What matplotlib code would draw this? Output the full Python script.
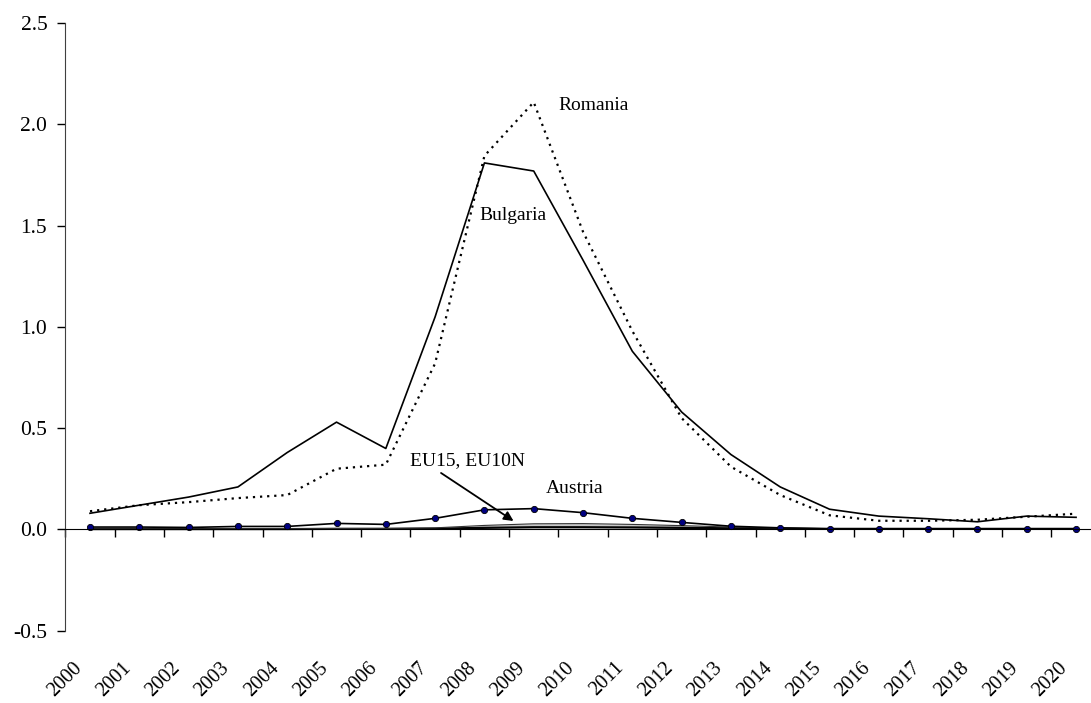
import matplotlib
matplotlib.use("Agg")
import matplotlib.pyplot as plt
import numpy as np

plt.rcParams['font.family'] = ['Liberation Serif', 'DejaVu Serif']
plt.rcParams['font.size'] = 14

years = [str(y) for y in range(2000, 2021)]

bulgaria = [0.08, 0.12, 0.16, 0.21, 0.38, 0.53, 0.40, 1.05, 1.81, 1.77, 1.33,
            0.88, 0.58, 0.37, 0.21, 0.10, 0.066, 0.053, 0.038, 0.066, 0.06]
romania = [0.09, 0.12, 0.135, 0.155, 0.17, 0.30, 0.32, 0.82, 1.845, 2.11, 1.47,
           0.98, 0.55, 0.31, 0.17, 0.07, 0.043, 0.043, 0.048, 0.063, 0.078]
austria = [0.012, 0.012, 0.01, 0.015, 0.015, 0.03, 0.025, 0.055, 0.097, 0.103, 0.083,
           0.055, 0.035, 0.016, 0.008, 0.003, 0.003, 0.003, 0.003, 0.003, 0.003]
eu15 = [0.002, 0.002, 0.002, 0.002, 0.002, 0.003, 0.003, 0.004, 0.008, 0.011, 0.011,
        0.01, 0.008, 0.006, 0.004, 0.003, 0.003, 0.003, 0.003, 0.003, 0.003]
eu10n = [0.003, 0.003, 0.003, 0.004, 0.004, 0.005, 0.005, 0.008, 0.02, 0.028, 0.029,
         0.025, 0.019, 0.012, 0.007, 0.004, 0.003, 0.003, 0.003, 0.003, 0.003]

x = np.arange(len(years))

fig = plt.figure(figsize=(10.91, 7.03), dpi=100)
ax = fig.add_axes([0.0599, 0.1028, 0.949, 0.8642])

# EU15 / EU10N band near zero
ax.fill_between(x, eu15, eu10n, color='#c8c8c8', lw=0)
ax.plot(x, eu15, color='black', lw=1.6)
ax.plot(x, eu10n, color='#333333', lw=0.8)

ax.plot(x, austria, color='black', lw=1.2, marker='o', markersize=4.5,
        markerfacecolor='#000080', markeredgecolor='black', markeredgewidth=0.6)
ax.plot(x, romania, color='black', lw=1.6, linestyle=(0, (1, 2.2)))
ax.plot(x, bulgaria, color='black', lw=1.2)

ax.set_xlim(-0.5, 20.5)
ax.set_ylim(-0.5, 2.5)

# y axis
ax.set_yticks(np.arange(-0.5, 2.51, 0.5))
ax.set_yticklabels(['%.1f' % v for v in np.arange(-0.5, 2.51, 0.5)], fontsize=15.5)
ax.tick_params(axis='y', direction='out', length=6, width=1, pad=7)

# x axis line at zero with ticks between categories
ax.spines['bottom'].set_position(('data', 0))
ax.spines['top'].set_visible(False)
ax.spines['right'].set_visible(False)
ax.spines['left'].set_color('#404040')
ax.set_xticks(np.arange(-0.5, 21, 1))
ax.set_xticklabels([])
ax.tick_params(axis='x', direction='out', length=6, width=1)

# category labels at the bottom of the plot area
sec = ax.secondary_xaxis('bottom')
sec.spines['bottom'].set_visible(False)
sec.set_xticks(x - 0.09)
sec.set_xticklabels(years, rotation=45, ha='right', fontsize=14.5)
sec.tick_params(length=0, pad=20)

# annotations
ax.text(9.5, 2.096, 'Romania', va='center', ha='left')
ax.text(7.89, 1.548, 'Bulgaria', va='center', ha='left')
ax.text(6.49, 0.338, 'EU15, EU10N', va='center', ha='left')
ax.text(9.24, 0.20, 'Austria', va='center', ha='left')
ax.annotate('', xy=(8.59, 0.042), xytext=(7.12, 0.279),
            arrowprops=dict(arrowstyle='-|>', color='black', lw=1.3,
                            mutation_scale=14, shrinkA=0, shrinkB=0))

fig.savefig('out.png', dpi=100)
